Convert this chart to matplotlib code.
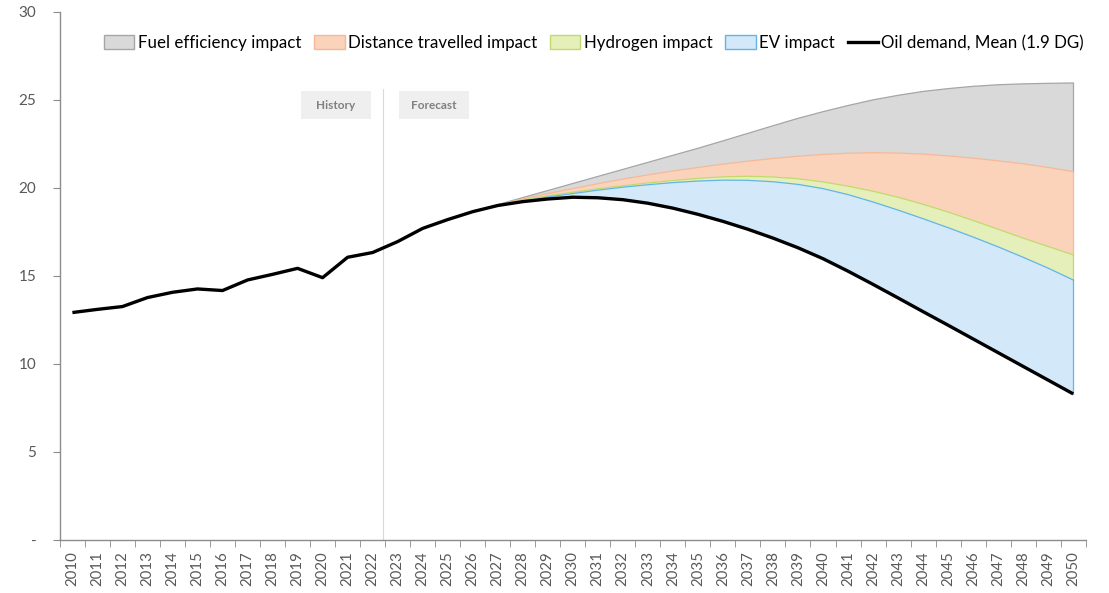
import matplotlib.pyplot as plt
from matplotlib.patches import Patch, Rectangle
from matplotlib.lines import Line2D

plt.rcParams["font.family"] = ["Lato", "DejaVu Sans"]

years = list(range(2010, 2051))

oil_demand = [12.92, 13.10, 13.26, 13.77, 14.07, 14.26, 14.17, 14.77, 15.09, 15.43,
              14.90, 16.06, 16.33, 16.95, 17.70, 18.20, 18.65, 19.00, 19.22, 19.37,
              19.47, 19.44, 19.33, 19.13, 18.85, 18.50, 18.10, 17.65, 17.15, 16.60,
              15.98, 15.27, 14.52, 13.75, 12.97, 12.20, 11.42, 10.64, 9.86, 9.08, 8.30]

# stacked area tops for the forecast years 2026-2050
fc_years = list(range(2026, 2051))
ev_top = [18.65, 18.98, 19.25, 19.48, 19.68, 19.87, 20.04, 20.18, 20.30, 20.39,
          20.44, 20.43, 20.35, 20.20, 19.96, 19.62, 19.20, 18.74, 18.25, 17.74,
          17.21, 16.65, 16.06, 15.44, 14.77]
hydrogen_top = [18.65, 19.00, 19.30, 19.55, 19.75, 19.95, 20.12, 20.28, 20.42, 20.54,
                20.63, 20.66, 20.62, 20.52, 20.34, 20.10, 19.81, 19.47, 19.07, 18.63,
                18.15, 17.65, 17.15, 16.67, 16.20]
distance_top = [18.65, 19.02, 19.37, 19.68, 19.96, 20.24, 20.50, 20.74, 20.96, 21.16,
                21.35, 21.52, 21.67, 21.80, 21.90, 21.97, 22.00, 21.98, 21.92, 21.82,
                21.69, 21.54, 21.37, 21.16, 20.93]
fuel_top = [18.65, 19.05, 19.45, 19.85, 20.25, 20.65, 21.05, 21.45, 21.85, 22.25,
            22.67, 23.10, 23.53, 23.95, 24.33, 24.68, 25.00, 25.26, 25.48, 25.64,
            25.77, 25.86, 25.91, 25.94, 25.96]

legend_labels = ["Fuel efficiency impact", "Distance travelled impact",
                 "Hydrogen impact", "EV impact", "Oil demand, Mean (1.9 DG)"]

fig = plt.figure(figsize=(11.09, 5.93), dpi=100)
ax = fig.add_axes([0.054, 0.0894, 0.925, 0.8906])

x_all = [y - 2010 for y in years]
x_fc = [y - 2010 for y in fc_years]
oil_fc = oil_demand[fc_years[0] - 2010:]

layers = [
    (distance_top, fuel_top, "#d9d9d9", "#a6a6a6"),
    (hydrogen_top, distance_top, "#fbd3bb", "#f4b998"),
    (ev_top, hydrogen_top, "#e4efba", "#c2d96b"),
    (oil_fc, ev_top, "#d3e9fa", "#62b5e5"),
]
for lo, hi, fc, ec in layers:
    ax.fill_between(x_fc, lo, hi, facecolor=fc, edgecolor="none", zorder=1)
    ax.plot(x_fc, hi, color=ec, lw=0.9, zorder=2)
    ax.plot([x_fc[-1], x_fc[-1]], [lo[-1], hi[-1]], color=ec, lw=0.9, zorder=2)

ax.plot(x_all, oil_demand, color="black", lw=2.4, zorder=3, solid_capstyle="butt")

# history / forecast divider
ax.plot([12.4, 12.4], [0, 25.6], color="#d9d9d9", lw=0.8, zorder=0)
for cx, label in [(10.52, "History"), (14.46, "Forecast")]:
    ax.add_patch(Rectangle((cx - 1.4, 23.9), 2.8, 1.6, facecolor="#efefef",
                           edgecolor="none", zorder=0))
    ax.text(cx, 24.7, label, ha="center", va="center", fontsize=8.5,
            fontweight="bold", color="#808080")

ax.set_xlim(-0.5, len(years) - 0.5)
ax.set_ylim(0, 30)
ax.set_yticks(range(0, 31, 5))
ax.set_yticklabels(["-"] + [str(v) for v in range(5, 31, 5)])
ax.set_xticks(x_all)
ax.set_xticklabels([str(y) for y in years], rotation=90)
ax.set_xticks([i - 0.5 for i in range(len(years) + 1)], minor=True)
ax.tick_params(axis="x", which="major", length=0, labelsize=10.8, colors="#595959", pad=8)
ax.tick_params(axis="x", which="minor", length=5, color="#8c8c8c", direction="out")
ax.tick_params(axis="y", length=5, color="#8c8c8c", labelsize=11, labelcolor="#595959", pad=12)
for s in ["top", "right"]:
    ax.spines[s].set_visible(False)
for s in ["left", "bottom"]:
    ax.spines[s].set_color("#8c8c8c")
    ax.spines[s].set_linewidth(1.0)

handles = [
    Patch(facecolor="#d9d9d9", edgecolor="#a6a6a6"),
    Patch(facecolor="#fbd3bb", edgecolor="#f4b998"),
    Patch(facecolor="#e4efba", edgecolor="#c2d96b"),
    Patch(facecolor="#d3e9fa", edgecolor="#62b5e5"),
    Line2D([0], [0], color="black", lw=2.4),
]
ax.legend(handles, legend_labels, loc="center right", bbox_to_anchor=(1.005, 0.941),
          ncol=5, frameon=False, fontsize=12.2, handlelength=1.8, handleheight=0.85,
          handletextpad=0.2, columnspacing=0.75, borderaxespad=0)

fig.savefig("out.png", dpi=100)
